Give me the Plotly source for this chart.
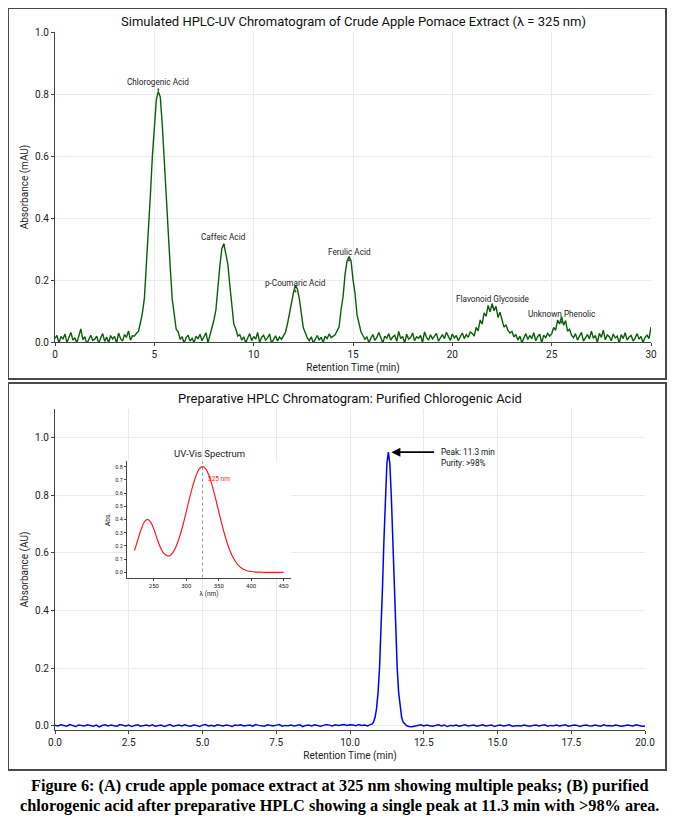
import numpy as np
import plotly.graph_objects as go

# the page adds an 8px body margin, so the figure is 8px smaller and all
# pixel positions below are measured from the screenshot's top-left corner
W, H = 667, 817
OFF = 8
FONT = "Roboto"

# ---- panel A: crude extract at 325 nm, one reading every 0.1 min ----
rt_crude = np.round(np.linspace(0, 30, 301), 1)
abs_crude = [
    0.012, 0.021, -0.004, 0.018, 0.009, 0.026, -0.002, 0.015, 0.031, 0.006,
    0.014, -0.003, 0.024, 0.042, 0.008, 0.017, -0.006, 0.011, 0.022, 0.005,
    0.009, 0.019, -0.005, 0.013, 0.027, 0.002, 0.016, -0.003, 0.021, 0.010,
    0.018, -0.004, 0.029, 0.011, 0.003, 0.024, 0.015, 0.036, 0.006, 0.020,
    0.019, 0.028, 0.034, 0.062, 0.094, 0.141, 0.246, 0.331, 0.472, 0.598,
    0.705, 0.781, 0.808, 0.790, 0.701, 0.579, 0.468, 0.322, 0.241, 0.139,
    0.096, 0.041, 0.033, 0.009, 0.017, -0.004, 0.014, 0.022, 0.003, 0.012,
    -0.002, 0.019, 0.010, 0.025, 0.004, 0.016, 0.030, -0.003, 0.021, 0.038,
    0.071, 0.104, 0.186, 0.247, 0.302, 0.316, 0.284, 0.251, 0.183, 0.121,
    0.058, 0.042, 0.019, 0.024, 0.006, 0.017, -0.003, 0.013, 0.027, 0.004,
    0.018, 0.009, 0.031, -0.002, 0.015, 0.022, 0.006, 0.013, 0.026, -0.004,
    0.011, 0.020, 0.003, 0.016, 0.009, 0.022, 0.031, 0.058, 0.094, 0.127,
    0.158, 0.183, 0.171, 0.139, 0.097, 0.046, 0.030, 0.013, 0.004, 0.017,
    -0.003, 0.012, 0.021, 0.006, 0.015, -0.002, 0.019, 0.011, 0.026, 0.014,
    0.018, 0.023, 0.036, 0.049, 0.104, 0.146, 0.218, 0.261, 0.276, 0.262,
    0.201, 0.158, 0.089, 0.061, 0.033, 0.021, 0.009, 0.017, -0.002, 0.013,
    0.024, 0.005, 0.015, 0.031, 0.010, -0.003, 0.019, 0.012, 0.027, 0.006,
    0.016, 0.022, 0.002, 0.034, 0.011, 0.018, -0.004, 0.025, 0.009, 0.014,
    0.029, 0.004, 0.017, 0.012, 0.021, -0.002, 0.033, 0.015, 0.006, 0.023,
    0.010, 0.019, 0.028, 0.003, 0.014, 0.024, 0.011, 0.031, 0.018, 0.005,
    0.026, 0.013, 0.021, 0.004, 0.017, 0.029, 0.011, 0.024, 0.015, 0.032,
    0.028, 0.019, 0.047, 0.036, 0.071, 0.058, 0.094, 0.083, 0.118, 0.097,
    0.124, 0.101, 0.115, 0.079, 0.096, 0.071, 0.048, 0.056, 0.037, 0.029,
    0.034, 0.016, 0.024, 0.006, 0.019, -0.002, 0.013, 0.027, 0.008, 0.021,
    0.011, 0.030, 0.004, 0.018, 0.025, -0.003, 0.022, 0.014, 0.028, 0.019,
    0.026, 0.047, 0.038, 0.071, 0.058, 0.082, 0.054, 0.069, 0.035, 0.041,
    0.022, 0.014, 0.027, 0.006, 0.019, 0.031, 0.003, 0.016, 0.024, 0.010,
    0.035, 0.012, 0.021, -0.002, 0.028, 0.015, 0.038, 0.007, 0.023, 0.017,
    0.004, 0.026, 0.013, 0.019, -0.003, 0.024, 0.011, 0.030, 0.006, 0.016,
    0.021, 0.003, 0.012, 0.027, 0.009, 0.018, -0.002, 0.015, 0.022, 0.011,
    0.048,
]

peak_names = ["Chlorogenic Acid", "Caffeic Acid", "p-Coumaric Acid",
              "Ferulic Acid", "Flavonoid Glycoside", "Unknown Phenolic"]
peak_rt = [5.2, 8.5, 12.1, 14.8, 22.0, 25.5]
peak_level = [0.80, 0.30, 0.15, 0.25, 0.10, 0.05]

# ---- panel B: preparative run, coarse baseline + fine sampling over the peak ----
rt_prep_early = np.linspace(0, 10.5, 106)
abs_prep_early = [
    0.002, -0.001, 0.003, 0.000, -0.002, 0.004, 0.001, -0.003, 0.002, 0.000,
    -0.001, 0.003, 0.001, -0.002, 0.002, -0.004, 0.001, 0.003, -0.001, 0.002,
    0.000, -0.002, 0.004, 0.001, -0.001, 0.002, -0.003, 0.001, 0.003, -0.002,
    0.001, 0.002, -0.001, 0.003, -0.002, 0.000, 0.002, -0.003, 0.001, 0.004,
    -0.002, 0.001, 0.002, -0.001, 0.003, 0.000, -0.002, 0.002, 0.001, -0.003,
    0.002, 0.004, -0.001, 0.001, -0.002, 0.003, 0.000, -0.001, 0.002, 0.001,
    -0.003, 0.002, 0.001, 0.003, -0.001, 0.000, 0.002, -0.002, 0.004, 0.001,
    0.000, -0.002, 0.003, 0.001, -0.001, 0.002, 0.004, -0.002, 0.001, 0.000,
    0.002, -0.001, 0.000, 0.003, -0.003, 0.001, 0.002, -0.001, 0.003, 0.000,
    -0.002, 0.001, 0.004, 0.002, -0.001, 0.003, 0.001, 0.002, 0.004, 0.001,
    0.003, 0.002, 0.000, 0.004, 0.001, 0.002,
]
rt_prep_peak = np.linspace(10.55, 12.0, 30)
abs_prep_peak = [
    0.001, -0.001, 0.002, 0.003, 0.006, 0.013, 0.029, 0.060, 0.114, 0.200,
    0.322, 0.476, 0.644, 0.799, 0.910, 0.950, 0.910, 0.799, 0.644, 0.476,
    0.322, 0.200, 0.114, 0.060, 0.029, 0.013, 0.006, 0.002, -0.001, -0.003,
]
rt_prep_late = np.linspace(12.1, 20.0, 80)
abs_prep_late = [
    -0.004, -0.002, 0.001, 0.003, -0.001, 0.002, 0.000, -0.002, 0.001, 0.003,
    -0.001, 0.002, -0.003, 0.001, 0.000, 0.002, -0.002, 0.001, 0.003, -0.001,
    0.000, 0.002, -0.002, 0.001, 0.003, -0.001, 0.000, 0.002, -0.003, 0.001,
    0.002, -0.001, 0.001, 0.003, -0.002, 0.000, 0.001, -0.001, 0.002, 0.000,
    -0.002, 0.001, 0.002, -0.001, 0.000, 0.003, -0.002, 0.001, 0.000, 0.002,
    -0.001, 0.001, 0.003, -0.002, 0.000, 0.002, 0.001, -0.003, 0.001, 0.002,
    0.000, -0.001, 0.002, 0.001, -0.002, 0.003, 0.000, 0.001, -0.001, 0.002,
    0.001, -0.002, 0.000, 0.002, 0.001, -0.001, 0.003, 0.000, -0.002, -0.001,
]
purity_text = ">98%"

# ---- inset: UV-Vis spectrum of the purified fraction ----
wavelength = np.arange(220, 455, 5)
uv_abs = [
    0.164, 0.243, 0.320, 0.379, 0.401, 0.381, 0.326, 0.253, 0.190, 0.145,
    0.126, 0.128, 0.155, 0.205, 0.275, 0.362, 0.460, 0.562, 0.655, 0.732,
    0.783, 0.800, 0.783, 0.732, 0.655, 0.562, 0.460, 0.361, 0.271, 0.194,
    0.133, 0.088, 0.055, 0.033, 0.019, 0.010, 0.006, 0.003, 0.001, 0.001,
    0.000, 0.000, 0.000, 0.000, 0.000, 0.000, 0.000,
]

caption_lines = [
    "Figure 6: (A) crude apple pomace extract at 325 nm showing multiple peaks; (B) purified",
    "chlorogenic acid after preparative HPLC showing a single peak at 11.3 min with >98% area.",
]

rt_prep = np.concatenate([rt_prep_early, rt_prep_peak, rt_prep_late])
abs_prep = np.array(abs_prep_early + abs_prep_peak + abs_prep_late)
i_max = int(np.argmax(abs_prep))
lam_max = int(wavelength[int(np.argmax(uv_abs))])


def px_x(p):
    return (p - OFF) / W


def px_y(p):
    return 1 - (p - OFF) / H


fig = go.Figure()
fig.add_trace(go.Scatter(x=rt_crude, y=abs_crude, mode="lines",
                         line=dict(color="#0b5d0b", width=1.4),
                         xaxis="x", yaxis="y", showlegend=False))
fig.add_trace(go.Scatter(x=rt_prep, y=abs_prep, mode="lines",
                         line=dict(color="#0000ff", width=1.5),
                         xaxis="x2", yaxis="y2", showlegend=False))
fig.add_trace(go.Scatter(x=wavelength, y=uv_abs, mode="lines",
                         line=dict(color="#ff1a1a", width=1.2, shape="spline"),
                         xaxis="x3", yaxis="y3", showlegend=False))

axis_style = dict(showline=True, linecolor="#444", linewidth=1, ticks="outside",
                  ticklen=3, tickcolor="#444", gridcolor="#ebebeb", zeroline=False,
                  tickfont=dict(size=10, color="#222"), automargin=False)
title_font = dict(size=10, color="#222")

fig.update_layout(
    width=W, height=H, autosize=False,
    margin=dict(l=0, r=0, t=0, b=0),
    paper_bgcolor="white", plot_bgcolor="white",
    font=dict(family=FONT, color="#222"),
    xaxis=dict(axis_style, domain=[px_x(55), px_x(651)], range=[0, 30], dtick=5,
               anchor="y", title=dict(text="Retention Time (min)", font=title_font, standoff=4)),
    yaxis=dict(axis_style, domain=[px_y(342), px_y(32)], range=[0, 1.0], dtick=0.2,
               tickformat=".1f", anchor="x",
               title=dict(text="Absorbance (mAU)", font=title_font, standoff=4)),
    xaxis2=dict(axis_style, domain=[px_x(55), px_x(645)], range=[0, 20], dtick=2.5,
                tickformat=".1f", anchor="y2",
                title=dict(text="Retention Time (min)", font=title_font, standoff=4)),
    yaxis2=dict(axis_style, domain=[px_y(730), px_y(409)], range=[-0.015, 1.1], dtick=0.2,
                tickformat=".1f", anchor="x2",
                title=dict(text="Absorbance (AU)", font=title_font, standoff=4)),
    xaxis3=dict(axis_style, domain=[px_x(127), px_x(291)], range=[208.5, 461.5],
                tick0=250, dtick=50, showgrid=False, ticklen=2, tickfont=dict(size=6),
                anchor="y3", title=dict(text="λ (nm)", font=dict(size=6.5), standoff=3)),
    yaxis3=dict(axis_style, domain=[px_y(577.6), px_y(461.4)], range=[-0.04, 0.84],
                dtick=0.1, tickformat=".1f", showgrid=False, ticklen=2, tickfont=dict(size=5.5),
                anchor="x3", title=dict(text="Abs.", font=dict(size=6.5), standoff=3)),
)

shapes = [
    # panel frames
    dict(type="rect", xref="paper", yref="paper", x0=px_x(8), x1=px_x(666),
         y0=px_y(379), y1=px_y(8), line=dict(color="#4a4a4a", width=2)),
    dict(type="rect", xref="paper", yref="paper", x0=px_x(8), x1=px_x(666),
         y0=px_y(770), y1=px_y(383), line=dict(color="#4a4a4a", width=2)),
    # white face of the inset so the main grid does not show through
    dict(type="rect", xref="x3", yref="y3", x0=208.5, x1=461.5, y0=-0.04, y1=0.84,
         fillcolor="white", line=dict(width=0), layer="below"),
    dict(type="line", xref="x3", yref="y3", x0=lam_max, x1=lam_max, y0=-0.04, y1=0.84,
         line=dict(color="#777", width=0.8, dash="dot")),
]
fig.update_layout(shapes=shapes)


def paper_text(text, x, y, size, color="#111", family=None):
    font = dict(size=size, color=color)
    if family:
        font["family"] = family
    return dict(text=text, x=px_x(x), y=px_y(y), xref="paper", yref="paper",
                xanchor="center", yanchor="middle", showarrow=False, font=font)


ann = [
    paper_text("Simulated HPLC-UV Chromatogram of Crude Apple Pomace Extract (λ = 325 nm)",
               353, 21, 13),
    paper_text("Preparative HPLC Chromatogram: Purified Chlorogenic Acid", 350, 398, 13),
    paper_text("UV-Vis Spectrum", 209, 453, 9.5, "#222"),
]

# peak labels in panel A
for name, rt, lvl in zip(peak_names, peak_rt, peak_level):
    ann.append(dict(text=name, x=rt, y=lvl + 0.01, xref="x", yref="y",
                    ax=rt, ay=lvl + 0.04, axref="x", ayref="y",
                    showarrow=True, arrowhead=1, arrowsize=0.6, arrowwidth=0.8,
                    arrowcolor="#333", font=dict(size=8.2, color="#222")))

# peak callout in panel B
ann.append(dict(text="", x=rt_prep[i_max], y=abs_prep[i_max], xref="x2", yref="y2",
                ax=12.9, ay=abs_prep[i_max], axref="x2", ayref="y2",
                showarrow=True, arrowhead=2, arrowsize=1, arrowwidth=1.8,
                arrowcolor="black", standoff=3))
ann.append(dict(text=f"Peak: {rt_prep[i_max]:.1f} min<br>Purity: {purity_text}",
                x=13.0, y=0.932, xref="x2", yref="y2", xanchor="left", yanchor="middle",
                align="left", showarrow=False, font=dict(size=8.2, color="#111")))

# λmax label in the inset
ann.append(dict(text=f"{lam_max} nm", x=lam_max + 5, y=0.71, xref="x3", yref="y3",
                xanchor="left", yanchor="middle", showarrow=False,
                font=dict(size=6.5, color="#ff1a1a")))

# figure caption, one annotation per line
for line, y in zip(caption_lines, [785, 805]):
    ann.append(paper_text(f"<b>{line}</b>", 339, y, 16.3, "#000", "Liberation Serif"))

fig.update_layout(annotations=ann)

fig.write_html("out.html")
